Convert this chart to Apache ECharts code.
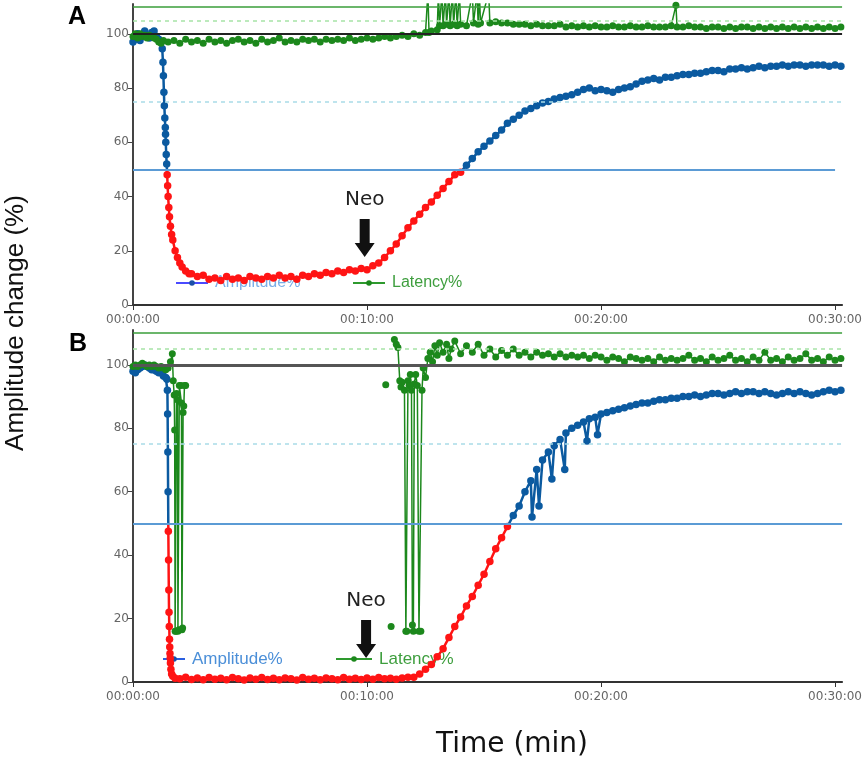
<!DOCTYPE html>
<html>
<head>
<meta charset="utf-8">
<script src="https://cdn.jsdelivr.net/npm/echarts@6/dist/echarts.min.js"></script>
<style>
  html, body { margin: 0; padding: 0; background: #fff; }
  #chart { width: 865px; height: 769px; }
</style>
</head>
<body>
<div id="chart"></div>
<script>
// [minutes, % of baseline]
const ampA = [
  [0,97],[0.05,99],[0.1,98],[0.2,100],[0.3,97.5],[0.4,99],[0.5,101],[0.6,99],[0.7,98.5],[0.8,100.5],
  [0.9,101],[1.0,99],[1.1,98],[1.2,97],[1.25,94.5],[1.28,89.5],[1.3,84.5],[1.32,78.5],[1.34,73.5],[1.36,69],
  [1.38,65.5],[1.39,63],[1.4,60],[1.42,55.5],[1.44,52],[1.46,48],[1.48,44],[1.5,40],[1.53,36],[1.56,32.5],
  [1.6,29],[1.65,26],[1.7,24],[1.8,20],[1.9,17.5],[2.0,15.5],[2.1,14],[2.25,12.5],[2.4,11.5],[2.5,11.5],
  [2.75,10.5],[3.0,11],[3.25,9.5],[3.5,10],[3.75,9],[4.0,10.5],[4.25,9.5],[4.5,10],[4.75,9],[5.0,10.5],
  [5.25,10],[5.5,9.5],[5.75,10.5],[6.0,10],[6.25,11],[6.5,10],[6.75,10.5],[7.0,9.5],[7.25,11],[7.5,10.5],
  [7.75,11.5],[8.0,11],[8.25,12],[8.5,11.5],[8.75,12.5],[9.0,12],[9.25,13],[9.5,12.5],[9.75,13.5],[10.0,13],
  [10.25,14.5],[10.5,15.5],[10.75,17.5],[11.0,20],[11.25,22.5],[11.5,25.5],[11.75,28.5],[12.0,31],[12.25,33.5],[12.5,36],
  [12.75,38],[13.0,40.5],[13.25,43],[13.5,45.5],[13.75,48],[14.0,49],[14.25,51.5],[14.5,54],[14.75,56.5],[15.0,58.5],
  [15.25,60.5],[15.5,62.5],[15.75,64.5],[16.0,67],[16.25,68.5],[16.5,70],[16.75,71.5],[17.0,72.5],[17.25,73.5],[17.5,74.5],
  [17.75,75],[18.0,76],[18.25,76.5],[18.5,77],[18.75,77.5],[19.0,78.5],[19.25,79.5],[19.5,80],[19.75,79],[20.0,79.5],
  [20.25,79],[20.5,78.5],[20.75,79.5],[21.0,80],[21.25,80.5],[21.5,81.5],[21.75,82.5],[22.0,83],[22.25,83.5],[22.5,83],
  [22.75,84],[23.0,84],[23.25,84.5],[23.5,85],[23.75,85],[24.0,85.5],[24.25,85.5],[24.5,86],[24.75,86.5],[25.0,86.5],
  [25.25,86],[25.5,87],[25.75,87],[26.0,87.5],[26.25,87],[26.5,87.5],[26.75,88],[27.0,87.5],[27.25,88],[27.5,88],
  [27.75,88.5],[28.0,88],[28.25,88.5],[28.5,88.5],[28.75,88],[29.0,88.5],[29.25,88.5],[29.5,88.5],[29.75,88],[30.0,88.5],
  [30.25,88]
];

const latA = [
  [0,99],[0.1,100],[0.2,98.5],[0.3,100],[0.4,99],[0.5,99.5],[0.6,98.5],[0.7,99.5],[0.8,99],[0.9,98.5],
  [1.0,98],[1.1,97],[1.2,96.5],[1.3,97.5],[1.5,97],[1.75,97.5],[2.0,96.5],[2.25,98],[2.5,97],[2.75,97.5],
  [3.0,96.5],[3.25,98],[3.5,97],[3.75,97.5],[4.0,96.5],[4.25,97.5],[4.5,98],[4.75,97],[5.0,97.5],[5.25,96.5],
  [5.5,98],[5.75,97],[6.0,97.5],[6.25,98.5],[6.5,97],[6.75,97.5],[7.0,97],[7.25,98],[7.5,97.5],[7.75,98],
  [8.0,97],[8.25,98],[8.5,97.5],[8.75,98],[9.0,97.5],[9.25,98.5],[9.5,97.5],[9.75,98],[10.0,98.5],[10.25,98],
  [10.5,98.5],[10.75,99],[11.0,98.5],[11.25,99],[11.5,99.5],[11.75,99],[12.0,100],[12.25,99.5],[12.5,100.5],[12.6,115],
  [12.65,100.5],[12.75,101],[13.0,101.5],[13.05,115],[13.1,103],[13.2,115],[13.25,103],[13.35,115],[13.4,103.5],[13.5,115],
  [13.55,103],[13.65,115],[13.7,103.5],[13.8,115],[13.85,103],[13.95,115],[14.0,103.5],[14.25,103],[14.5,115],[14.55,104],
  [14.7,115],[14.75,103.5],[14.8,115],[14.85,104],[15.2,115],[15.25,104],[15.5,104.5],[15.75,104],[16.0,104],[16.25,103.5],
  [16.5,103.5],[16.75,103.5],[17.0,103],[17.25,103.5],[17.5,103],[17.75,103],[18.0,103],[18.25,103.5],[18.5,102.5],[18.75,103],
  [19.0,102.5],[19.25,103],[19.5,102.5],[19.75,103],[20.0,102.5],[20.25,102.5],[20.5,103],[20.75,102.5],[21.0,102.5],[21.25,103],
  [21.5,102.5],[21.75,102.5],[22.0,103],[22.25,102.5],[22.5,102.5],[22.75,102.5],[23.0,103],[23.2,110.5],[23.25,102.5],[23.5,102.5],
  [23.75,103],[24.0,102.5],[24.25,102.5],[24.5,102],[24.75,102.5],[25.0,102.5],[25.25,102],[25.5,102.5],[25.75,102],[26.0,102.5],
  [26.25,102.5],[26.5,102],[26.75,102.5],[27.0,102],[27.25,102.5],[27.5,102],[27.75,102.5],[28.0,102],[28.25,102.5],[28.5,102],
  [28.75,102.5],[29.0,102],[29.25,102.5],[29.5,102],[29.75,102.5],[30.0,102],[30.25,102.5]
];

const ampB = [
  [0,98],[0.1,97.5],[0.2,98.5],[0.3,99],[0.4,99.5],[0.5,100],[0.6,99.5],[0.7,99],[0.8,98.5],[0.9,98.5],
  [1.0,98],[1.1,97.5],[1.2,97.5],[1.3,96.5],[1.4,96],[1.45,95.5],[1.47,92],[1.48,84.5],[1.49,72.5],[1.5,60],
  [1.51,47.5],[1.52,38.5],[1.53,29],[1.54,22],[1.55,17.5],[1.56,13.5],[1.57,11],[1.58,9],[1.59,7.5],[1.6,6],
  [1.62,4],[1.65,2.5],[1.7,1.8],[1.8,1.2],[2.0,1],[2.25,1.5],[2.5,0.8],[2.75,1.3],[3.0,0.7],[3.25,1.4],
  [3.5,0.9],[3.75,1.2],[4.0,0.7],[4.25,1.4],[4.5,1],[4.75,0.6],[5.0,1.3],[5.25,0.9],[5.5,1.4],[5.75,0.8],
  [6.0,1.2],[6.25,0.7],[6.5,1.3],[6.75,1],[7.0,0.6],[7.25,1.4],[7.5,0.9],[7.75,1.2],[8.0,0.7],[8.25,1.3],
  [8.5,1],[8.75,0.7],[9.0,1.4],[9.25,0.9],[9.5,1.2],[9.75,0.8],[10.0,1.3],[10.25,0.9],[10.5,1.4],[10.75,1],
  [11.0,1.2],[11.25,0.9],[11.5,1.3],[11.75,1.5],[12.0,1.5],[12.25,2.5],[12.5,4],[12.75,5.5],[13.0,8],[13.25,10.5],
  [13.5,14],[13.75,17.5],[14.0,20.5],[14.25,24],[14.5,27],[14.75,30.5],[15.0,34],[15.25,38],[15.5,42],[15.75,45.5],
  [16.0,49],[16.25,52.5],[16.5,55.5],[16.75,60],[17.0,63.5],[17.05,52],[17.25,67],[17.35,55.5],[17.5,70],[17.75,72.5],
  [17.9,64],[18.0,74.5],[18.25,76.5],[18.45,67],[18.5,78.5],[18.75,80],[19.0,81],[19.25,82],[19.4,76],[19.5,83],
  [19.75,83.5],[19.85,78],[20.0,84.5],[20.25,85],[20.5,85.5],[20.75,86],[21.0,86.5],[21.25,87],[21.5,87.5],[21.75,88],
  [22.0,88],[22.25,88.5],[22.5,89],[22.75,89],[23.0,89.5],[23.25,89.5],[23.5,90],[23.75,90],[24.0,90.5],[24.25,90],
  [24.5,90.5],[24.75,91],[25.0,91],[25.25,90.5],[25.5,91],[25.75,91.5],[26.0,91],[26.25,91.5],[26.5,91.5],[26.75,91],
  [27.0,91.5],[27.25,91],[27.5,90.5],[27.75,91],[28.0,91.5],[28.25,91],[28.5,91.5],[28.75,91],[29.0,90.5],[29.25,91],
  [29.5,91.5],[29.75,92],[30.0,91.5],[30.25,92]
];

const latB = [
  [0,99.5],[0.1,100],[0.2,99.5],[0.3,100],[0.4,100.5],[0.5,100],[0.6,99.5],[0.7,100],[0.8,99.5],[0.9,100],
  [1.0,99.5],[1.1,99],[1.2,99.5],[1.3,99],[1.4,98.5],[1.5,99],[1.6,101],[1.68,103.5],[1.72,95],[1.76,90.5],
  [1.78,79.5],[1.8,16],[1.84,16],[1.86,91],[1.9,89],[1.92,16],[1.96,16.5],[1.98,93.5],[2.05,93.5],[2.07,88],
  [2.09,16.5],[2.12,17],[2.14,85],[2.17,87],[2.2,93.5],[2.25,93.5],[2.3,null],
  [10.8,93.7],[10.9,null],[11.03,17.5],[11.1,null],
  [11.17,108],[11.25,106.5],[11.32,105.5],[11.4,95],[11.45,93],[11.5,94.5],[11.6,92],[11.66,16],[11.7,16],[11.75,95],
  [11.8,93.5],[11.85,97],[11.9,92],[11.94,18],[11.98,16],[12.02,94],[12.08,97],[12.15,93.5],[12.22,16],[12.3,16],
  [12.35,92],[12.4,99],[12.5,96],[12.6,102],[12.7,104],[12.8,101],[12.9,106],[13.0,103],[13.1,107],[13.25,104],
  [13.4,106.5],[13.5,102],[13.6,105],[13.75,107.5],[14.0,103.5],[14.25,106],[14.5,104],[14.75,106.5],[15.0,103],[15.25,105],
  [15.5,102.5],[15.75,104.5],[16.0,103],[16.25,105],[16.5,103],[16.75,104],[17.0,102.5],[17.25,104],[17.5,103],[17.75,103.5],
  [18.0,102.5],[18.25,103.5],[18.5,102.5],[18.75,103],[19.0,102.5],[19.25,103],[19.5,102],[19.75,103],[20.0,102.5],[20.25,101.5],
  [20.5,102.5],[20.75,102],[21.0,101],[21.25,102.5],[21.5,102],[21.75,101.5],[22.0,102],[22.25,101],[22.5,102.5],[22.75,101.5],
  [23.0,102],[23.25,101.5],[23.5,102],[23.75,103],[24.0,101.5],[24.25,102],[24.5,101],[24.75,102.5],[25.0,101.5],[25.25,102],
  [25.5,103],[25.75,101.5],[26.0,102],[26.25,101],[26.5,102.5],[26.75,101.5],[27.0,104],[27.25,101.5],[27.5,102],[27.75,101],
  [28.0,102.5],[28.25,101.5],[28.5,102],[28.75,103.5],[29.0,101.5],[29.25,102],[29.5,101],[29.75,102.5],[30.0,101.5],[30.25,102]
];

const xTicks = [0, 10, 20, 30];
const yTicks = [0, 20, 40, 60, 80, 100];
const neoA = [9.9, 17.7];
const neoB = [9.96, 7.6];

const AMP_BLUE = '#0b5aa0';
const AMP_RED = '#ff1414';
const LAT_GREEN = '#1c881c';
const SANS = 'Liberation Sans, Arial, sans-serif';

function fmtTime(v) {
  return '00:' + String(Math.round(v)).padStart(2, '0') + ':00';
}

function xAxisFor(grid) {
  return {
    type: 'value', gridIndex: grid, min: 0, max: 30.3,
    axisLine: { lineStyle: { color: '#333', width: 2 } },
    axisTick: { customValues: xTicks, length: 5, lineStyle: { color: '#333' } },
    axisLabel: { customValues: xTicks, formatter: fmtTime, color: '#666', fontSize: 12, fontFamily: 'DejaVu Sans', margin: 9 },
    splitLine: { show: false }
  };
}

function yAxisFor(grid) {
  return {
    type: 'value', gridIndex: grid, min: 0, max: 111,
    axisLine: { show: true, lineStyle: { color: '#444', width: 2 } },
    axisTick: { show: true, customValues: yTicks, length: 5, lineStyle: { color: '#444' } },
    axisLabel: { customValues: yTicks, color: '#666', fontSize: 12, fontFamily: 'DejaVu Sans', margin: 4 },
    splitLine: { show: false }
  };
}

function refLines(blackColor, blackWidth, fiftyEnd) {
  return {
    silent: true, symbol: 'none', animation: false,
    label: { show: false },
    emphasis: { disabled: true },
    data: [
      { yAxis: 110, lineStyle: { color: '#3a9e3a', width: 1.5, type: 'solid' } },
      { yAxis: 105, lineStyle: { color: '#a6e3a6', width: 1.5, type: [4, 4] } },
      { yAxis: 100, lineStyle: { color: blackColor, width: blackWidth, type: 'solid' } },
      { yAxis: 75, lineStyle: { color: '#a9dbe8', width: 1.5, type: [4, 4] } },
      [{ coord: [0, 50], lineStyle: { color: '#5b9bd5', width: 2, type: 'solid' } }, { coord: [fiftyEnd, 50] }]
    ]
  };
}

function neoMark(coord) {
  return {
    silent: true, animation: false,
    symbol: 'path://M5,0 L15,0 L15,24 L20,24 L10,38 L0,24 L5,24 Z',
    symbolSize: [20, 38],
    symbolOffset: [0, '-50%'],
    itemStyle: { color: '#111' },
    label: { show: true, position: 'top', distance: 9, formatter: 'Neo', color: '#222', fontSize: 20, fontFamily: 'DejaVu Sans' },
    data: [{ coord: coord }]
  };
}

function ampSeries(grid, data, fiftyEnd, black, blackW, neo) {
  return {
    name: 'Amplitude%', type: 'line', xAxisIndex: grid, yAxisIndex: grid,
    data: data, symbol: 'circle', symbolSize: 7.5, showSymbol: true,
    lineStyle: { width: 2.5 }, itemStyle: { color: AMP_BLUE },
    animation: false, z: 3,
    markLine: refLines(black, blackW, fiftyEnd),
    markPoint: neoMark(neo)
  };
}

function latSeries(grid, data) {
  return {
    name: 'Latency%', type: 'line', xAxisIndex: grid, yAxisIndex: grid,
    data: data, symbol: 'circle', symbolSize: 7, showSymbol: true, connectNulls: false,
    lineStyle: { width: 1.5, color: LAT_GREEN }, itemStyle: { color: LAT_GREEN },
    animation: false, z: 4
  };
}

function legendAt(left, top, name, iconW, lineColor, dotColor, textColor, size) {
  return {
    left: left, top: top, padding: 0, z: 1, selectedMode: false,
    itemWidth: iconW, itemHeight: 7, itemGap: 4,
    data: [{ name: name, itemStyle: { color: dotColor }, lineStyle: { color: lineColor, width: 2 } }],
    textStyle: { color: textColor, fontSize: size, fontFamily: SANS, lineHeight: 18, padding: [0, 0, 0, 2] }
  };
}

const chart = echarts.init(document.getElementById('chart'));

chart.setOption({
  backgroundColor: '#fff',
  animation: false,
  grid: [
    { left: 133, top: 4, width: 720, height: 301 },
    { left: 133, top: 330, width: 724, height: 352 }
  ],
  xAxis: [xAxisFor(0), xAxisFor(1)],
  yAxis: [yAxisFor(0), yAxisFor(1)],
  visualMap: {
    type: 'piecewise', show: false, seriesIndex: [0, 2], dimension: 1,
    pieces: [
      { gte: -50, lt: 50, color: AMP_RED },
      { gte: 50, lte: 200, color: AMP_BLUE }
    ]
  },
  legend: [
    legendAt(175, 274, 'Amplitude%', 32, '#4a4aff', '#1b4fa8', '#7aaee8', 16),
    legendAt(352, 274, 'Latency%', 32, '#2e9a2e', LAT_GREEN, '#3e9e3e', 16),
    legendAt(162, 650, 'Amplitude%', 22, '#2a5fe0', '#1b4fa8', '#4b8fd8', 17),
    legendAt(335, 650, 'Latency%', 36, '#2e9a2e', LAT_GREEN, '#3e9e3e', 17)
  ],
  series: [
    ampSeries(0, ampA, 30, '#222', 2, neoA),
    latSeries(0, latA),
    ampSeries(1, ampB, 30.3, '#555', 3, neoB),
    latSeries(1, latB)
  ],
  graphic: [
    { type: 'text', left: 68, top: 5, style: { text: 'A', font: 'bold 25px Liberation Sans, Arial, sans-serif', fill: '#000' } },
    { type: 'text', left: 69, top: 332, style: { text: 'B', font: 'bold 25px Liberation Sans, Arial, sans-serif', fill: '#000' } },
    {
      type: 'text', x: 16, y: 323, rotation: Math.PI / 2,
      style: { text: 'Amplitude change (%)', font: '26px Liberation Sans, Arial, sans-serif', fill: '#111', align: 'center', verticalAlign: 'middle' }
    },
    {
      type: 'text', x: 512, y: 745,
      style: { text: 'Time (min)', font: '28px DejaVu Sans, sans-serif', fill: '#111', align: 'center', verticalAlign: 'middle' }
    }
  ]
});
</script>
</body>
</html>
